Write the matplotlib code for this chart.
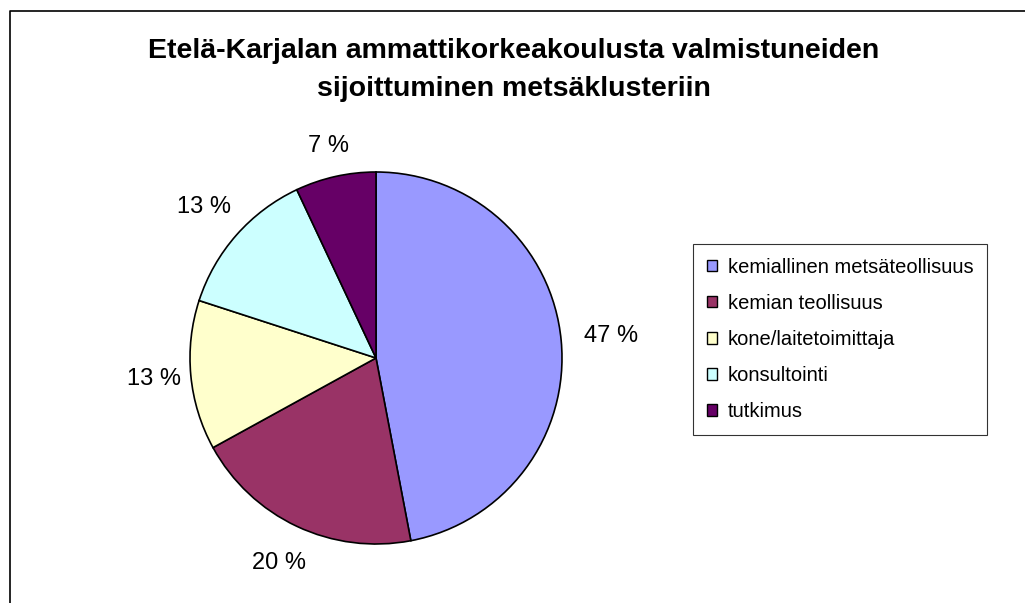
import numpy as np
import matplotlib
matplotlib.use("Agg")
from matplotlib import pyplot as plt
from matplotlib.lines import Line2D

plt.rcParams['font.family'] = ['Liberation Sans', 'DejaVu Sans']

# data
categories = ['kemiallinen metsäteollisuus', 'kemian teollisuus',
              'kone/laitetoimittaja', 'konsultointi', 'tutkimus']
values = [47, 20, 13, 13, 7]
colors = ['#9999FF', '#993366', '#FFFFCC', '#CCFFFF', '#660066']
title = 'Etelä-Karjalan ammattikorkeakoulusta valmistuneiden\nsijoittuminen metsäklusteriin'

W, H = 1025, 603
fig = plt.figure(figsize=(W / 100, H / 100), dpi=100)

# outer chart frame (left and top edges visible)
fig.add_artist(Line2D([9.5 / W, 9.5 / W, 1.0], [0.0, 1 - 10.5 / H, 1 - 10.5 / H],
                      transform=fig.transFigure, color='black', lw=1.2))

# pie axes: centre (376, 358), radius 186 px
cx, cy, r = 376, 358, 186
ax = fig.add_axes([(cx - r) / W, (H - cy - r) / H, 2 * r / W, 2 * r / H])
wedges, _ = ax.pie(values, colors=colors, startangle=90, counterclock=False,
                   radius=1.0, wedgeprops=dict(edgecolor='black', linewidth=1.2))
ax.set_xlim(-1, 1)
ax.set_ylim(-1, 1)
ax.set_aspect('equal')
ax.axis('off')

# percentage labels outside the slices
label_dist = [1.27, 1.22, 1.20, 1.23, 1.17]
total = sum(values)
cum = 0
for v, d in zip(values, label_dist):
    mid = 90 - 360 * (cum + v / 2) / total
    cum += v
    a = np.deg2rad(mid)
    ax.text(d * np.cos(a), d * np.sin(a), f'{v} %', ha='center', va='center',
            fontsize=17, clip_on=False)

fig.text(514 / W, 1 - 70 / H, title, ha='center', va='center',
         fontsize=20.5, fontweight='bold', linespacing=1.55)

leg = fig.legend(wedges, categories, loc='upper left',
                 bbox_to_anchor=(693 / W, 1 - 244 / H), bbox_transform=fig.transFigure,
                 borderaxespad=0, fontsize=14.5, frameon=True, fancybox=False,
                 edgecolor='black', handlelength=0.5, handleheight=0.5,
                 handletextpad=0.55, labelspacing=0.85, borderpad=0.68)
leg.get_frame().set_linewidth(0.8)
for h in leg.legend_handles:
    h.set_linewidth(1.0)

fig.savefig('out.png', dpi=100)
